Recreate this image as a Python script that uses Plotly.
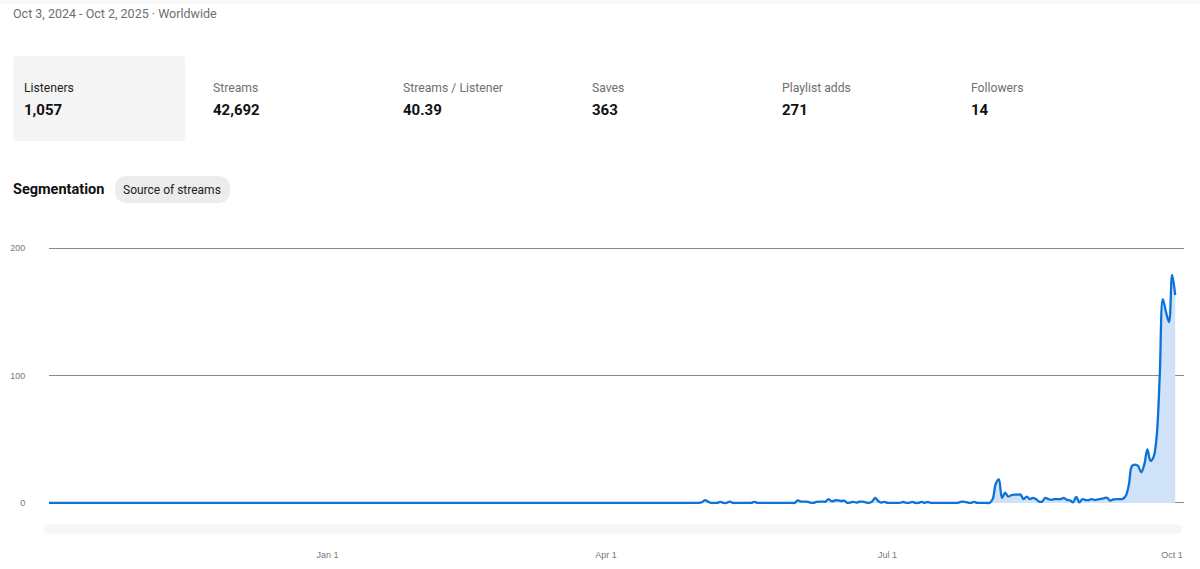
"""
Listeners over the last year, with the stats header above the chart
"""
import pandas as pd
import plotly.graph_objects as go

PERIOD_TEXT = "Oct 3, 2024 - Oct 2, 2025 · Worldwide"
STAT_LABELS = ["Listeners", "Streams", "Streams / Listener", "Saves", "Playlist adds", "Followers"]
STAT_VALUES = ["1,057", "42,692", "40.39", "363", "271", "14"]
STAT_X = [24, 213, 403, 592, 782, 971]

TICK_DATES = ["2025-01-01", "2025-04-01", "2025-07-01", "2025-10-01"]
TICK_LABELS = ["Jan 1", "Apr 1", "Jul 1", "Oct 1"]
Y_TICKS = [0, 100, 200]

# one value per day, 20 days per row
LISTENERS = [
    0, 0, 0, 0, 0, 0, 0, 0, 0, 0, 0, 0, 0, 0, 0, 0, 0, 0, 0, 0,
    0, 0, 0, 0, 0, 0, 0, 0, 0, 0, 0, 0, 0, 0, 0, 0, 0, 0, 0, 0,
    0, 0, 0, 0, 0, 0, 0, 0, 0, 0, 0, 0, 0, 0, 0, 0, 0, 0, 0, 0,
    0, 0, 0, 0, 0, 0, 0, 0, 0, 0, 0, 0, 0, 0, 0, 0, 0, 0, 0, 0,
    0, 0, 0, 0, 0, 0, 0, 0, 0, 0, 0, 0, 0, 0, 0, 0, 0, 0, 0, 0,
    0, 0, 0, 0, 0, 0, 0, 0, 0, 0, 0, 0, 0, 0, 0, 0, 0, 0, 0, 0,
    0, 0, 0, 0, 0, 0, 0, 0, 0, 0, 0, 0, 0, 0, 0, 0, 0, 0, 0, 0,
    0, 0, 0, 0, 0, 0, 0, 0, 0, 0, 0, 0, 0, 0, 0, 0, 0, 0, 0, 0,
    0, 0, 0, 0, 0, 0, 0, 0, 0, 0, 0, 0, 0, 0, 0, 0, 0, 0, 0, 0,
    0, 0, 0, 0, 0, 0, 0, 0, 0, 0, 0, 0, 0, 0, 0, 0, 0, 0, 0, 0,
    0, 0, 0, 0, 0, 0, 0, 0, 0, 0, 0, 0.5, 2.2, 1, 0, 0, 0, 0.8, 0, 0,
    1, 0, 0, 0, 0, 0, 0, 0, 0.8, 0, 0, 0, 0, 0, 0, 0, 0, 0, 0, 0,
    0, 0, 2, 1, 1, 1, 0.3, 0, 0.8, 1, 1, 1, 3, 1.2, 2, 2, 1.5, 1.8, 0, 0.3,
    0.8, 0.2, 1, 1, 0.5, 0, 1, 4, 1.5, 0.3, 0.8, 0, 0, 0, 0, 0, 0.7, 0.1, 0.1, 0.8,
    0, 0, 0.8, 0.1, 0.7, 0, 0, 0, 0, 0, 0, 0, 0, 0, 0.3, 1, 0.9, 0.2, 0.1, 0.8,
    0, 0, 0, 0, 0, 3, 15, 18.5, 4, 8, 5, 6, 6.5, 6.5, 6.5, 3, 5, 3, 4, 3,
    1, 1, 4, 3, 2.4, 3, 3, 3, 4, 2.4, 2, 0.5, 4.7, 0.5, 3, 2.2, 2.2, 3, 2.2, 2.8,
    3.2, 3.7, 4, 1.8, 2.7, 3, 3, 3.2, 5.5, 14, 29, 30, 29, 24, 30, 42, 33, 36, 52, 100,
    160, 150, 142, 179, 163,
]
DATES = pd.date_range("2024-10-03", periods=len(LISTENERS), freq="D")

# plot area in page pixels, y range padded so the 0 and 200 lines are both kept
WIDTH, HEIGHT = 1200, 569
Y_MIN, Y_MAX = -4, 204
LEFT, RIGHT, TOP, BOTTOM = 49, 1184, 242.9, 507.6
DAY_PX = 3.094


def px_x(x):
    return (x - LEFT) / (RIGHT - LEFT)


def px_y(y):
    return (BOTTOM - y) / (BOTTOM - TOP)


def rounded(x0, y0, x1, y1, r, color):
    """Rounded box given in page pixels"""
    path = (
        f"M {px_x(x0 + r)} {px_y(y0)} L {px_x(x1 - r)} {px_y(y0)} "
        f"Q {px_x(x1)} {px_y(y0)} {px_x(x1)} {px_y(y0 + r)} L {px_x(x1)} {px_y(y1 - r)} "
        f"Q {px_x(x1)} {px_y(y1)} {px_x(x1 - r)} {px_y(y1)} L {px_x(x0 + r)} {px_y(y1)} "
        f"Q {px_x(x0)} {px_y(y1)} {px_x(x0)} {px_y(y1 - r)} L {px_x(x0)} {px_y(y0 + r)} "
        f"Q {px_x(x0)} {px_y(y0)} {px_x(x0 + r)} {px_y(y0)} Z"
    )
    return dict(type="path", path=path, xref="paper", yref="paper",
                fillcolor=color, line=dict(width=0), layer="below")


def label(x, y, text, size, color, bold=False):
    return dict(x=px_x(x), y=px_y(y), xref="paper", yref="paper", text=f"<b>{text}</b>" if bold else text,
                showarrow=False, xanchor="left", yanchor="middle", align="left",
                borderpad=0, xshift=-1,
                font=dict(family="Roboto", size=size, color=color))


fig = go.Figure(go.Scatter(
    x=DATES,
    y=LISTENERS,
    mode="lines",
    line=dict(color="#0d72d8", width=2.3, shape="spline", smoothing=1),
    fill="tozeroy",
    fillcolor="#cfe2f8",
    hoverinfo="x+y",
))

annotations = [label(13, 14, PERIOD_TEXT, 12.5, "#6f6f6f")]
for i, (name, value, x) in enumerate(zip(STAT_LABELS, STAT_VALUES, STAT_X)):
    annotations.append(label(x, 88.5, name, 12.2, "#1f1f1f" if i == 0 else "#6f6f6f"))
    annotations.append(label(x, 110, value, 15, "#111111", bold=True))
annotations.append(label(13, 189.5, "Segmentation", 14.5, "#111111", bold=True))
annotations.append(label(123, 189.5, "Source of streams", 12, "#222222"))

start = DATES[0]
fig.update_layout(
    width=WIDTH,
    height=HEIGHT,
    margin=dict(l=LEFT, r=WIDTH - RIGHT, t=TOP, b=HEIGHT - BOTTOM, pad=0),
    paper_bgcolor="white",
    plot_bgcolor="white",
    showlegend=False,
    annotations=annotations,
    shapes=[
        dict(type="rect", xref="paper", yref="paper", x0=px_x(0), x1=px_x(WIDTH), y0=px_y(0), y1=px_y(4),
             fillcolor="#f8f8f8", line=dict(width=0), layer="below"),
        rounded(13, 56, 185, 141, 3, "#f4f4f4"),
        rounded(115, 176, 230, 203, 13, "#ececec"),
        rounded(44, 524, 1182, 533, 4.5, "#f6f6f6"),
    ],
    xaxis=dict(
        type="date",
        automargin=False,
        range=[start, start + pd.Timedelta(days=(RIGHT - LEFT) / DAY_PX)],
        tickmode="array",
        tickvals=TICK_DATES,
        ticktext=TICK_LABELS,
        ticks="outside",
        ticklen=38,
        tickcolor="rgba(0,0,0,0)",
        tickfont=dict(family="Liberation Sans", size=9, color="#777777"),
        showgrid=False,
        zeroline=False,
        showline=False,
    ),
    yaxis=dict(
        automargin=False,
        range=[Y_MIN, Y_MAX],
        tickmode="array",
        tickvals=Y_TICKS,
        ticks="outside",
        ticklen=21,
        tickcolor="rgba(0,0,0,0)",
        tickfont=dict(family="Liberation Sans", size=9, color="#777777"),
        showgrid=True,
        gridcolor="#8a8a8a",
        gridwidth=1,
        zeroline=True,
        zerolinecolor="#8a8a8a",
        zerolinewidth=1,
    ),
)

fig.write_html("out.html", config={"displayModeBar": False},
               post_script="document.body.style.margin='0';")
